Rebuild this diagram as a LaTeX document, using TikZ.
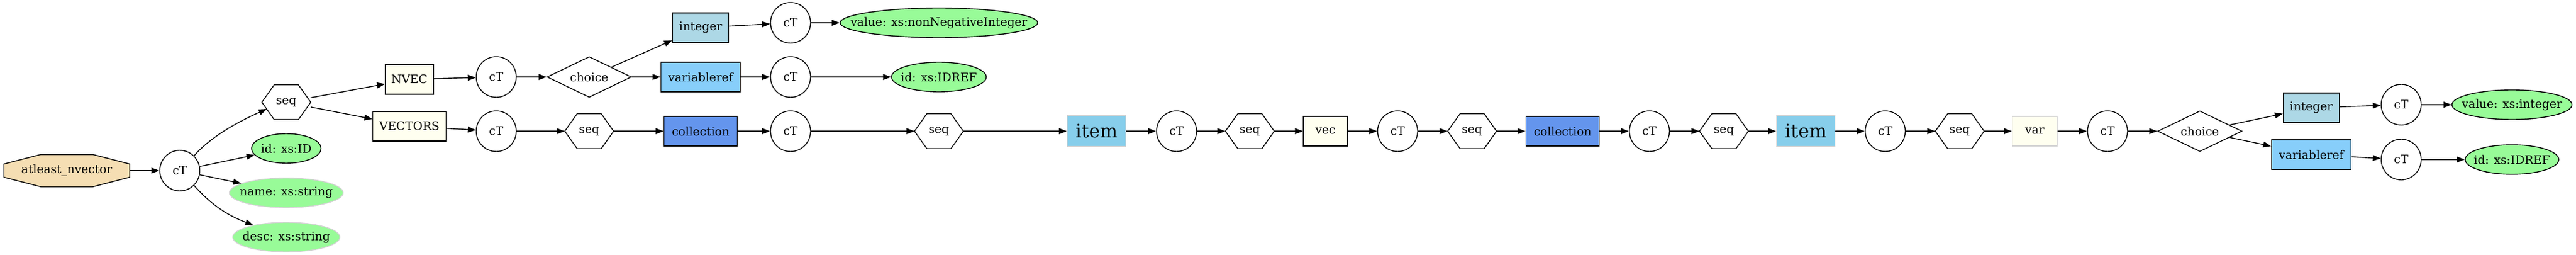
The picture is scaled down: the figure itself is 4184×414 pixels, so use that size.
\documentclass[tikz,border=0pt]{standalone}
\usepackage{fontspec}
\setmainfont{DejaVu Serif}
\usetikzlibrary{shapes.geometric,arrows.meta,backgrounds}
\definecolor{wheat}{HTML}{F5DEB3}
\definecolor{palegreen}{HTML}{98FB98}
\definecolor{ivoryc}{HTML}{FFFFF0}
\definecolor{lightbluec}{HTML}{ADD8E6}
\definecolor{lightskyblue}{HTML}{87CEFA}
\definecolor{cornflower}{HTML}{6495ED}
\definecolor{skybluec}{HTML}{87CEEB}
\definecolor{lgray}{HTML}{D3D3D3}
\begin{document}
\begin{tikzpicture}[x=1pt,y=-1pt,
  base/.style={line width=1.4pt, inner sep=0pt, font=\fontsize{19pt}{22pt}\selectfont, text=black},
  ctnode/.style={base, draw, ellipse, minimum width=65pt, minimum height=66pt},
  attr/.style={base, draw, ellipse, fill=palegreen, minimum height=48pt},
  attrg/.style={attr, draw=lgray},
  seqnode/.style={base, rectangle, minimum width=78pt, minimum height=55pt},
  choicenode/.style={base, draw, diamond, aspect=2.1, minimum width=137pt, minimum height=66pt},
  boxnode/.style={base, draw, rectangle, minimum height=48pt},
  octnode/.style={base, rectangle, minimum width=203pt, minimum height=51pt},
  itemnode/.style={base, draw=lgray, fill=skybluec, rectangle, minimum width=95pt, minimum height=50pt, font=\fontsize{30pt}{34pt}\selectfont},
  edge/.style={line width=1.4pt, -{Triangle[length=13pt,width=9.5pt]}},
  outline/.style={line width=1.4pt, line join=miter},
]
\useasboundingbox (0,0) rectangle (4184,414);

\node[octnode] (oct) at (108.5,277) {atleast\_nvector};
\node[ctnode] (cTa) at (292,277) {cT};
\node[seqnode] (seqa) at (465,166) {seq};
\node[attr, minimum width=113pt] (idID) at (465,241) {\makebox[0pt]{id: xs:ID}};
\node[attrg, minimum width=185pt] (name) at (465,313) {\makebox[0pt]{name: xs:string}};
\node[attrg, minimum width=174pt] (desc) at (465,385) {\makebox[0pt]{desc: xs:string}};
\node[boxnode, fill=ivoryc, minimum width=78pt] (NVEC) at (665,129) {NVEC};
\node[boxnode, fill=ivoryc, minimum width=119pt] (VECTORS) at (665,205) {VECTORS};
\node[ctnode] (cTb) at (806,125) {cT};
\node[ctnode] (cTe) at (806,213) {cT};
\node[choicenode] (choicea) at (957,125) {choice};
\node[seqnode] (seqb) at (957,213) {seq};
\node[boxnode, fill=lightbluec, minimum width=91pt] (integera) at (1138,45) {integer};
\node[boxnode, fill=lightskyblue, minimum width=129pt] (varrefa) at (1138,125) {variableref};
\node[boxnode, fill=cornflower, minimum width=119pt] (colla) at (1138,213) {collection};
\node[ctnode] (cTc) at (1284,37) {cT};
\node[ctnode] (cTd) at (1284,125) {cT};
\node[ctnode] (cTf) at (1284,213) {cT};
\node[attr, minimum width=321pt] (valNN) at (1525,37) {\makebox[0pt]{value: xs:nonNegativeInteger}};
\node[attr, minimum width=154pt] (idrefa) at (1525,125) {\makebox[0pt]{id: xs:IDREF}};
\node[seqnode] (seqc) at (1525,213) {seq};
\node[itemnode] (itema) at (1781,213) {item};
\node[ctnode] (cTg) at (1911,213) {cT};
\node[seqnode] (seqd) at (2030,213) {seq};
\node[boxnode, fill=ivoryc, minimum width=72pt] (vec) at (2153,213) {vec};
\node[ctnode] (cTh) at (2270,213) {cT};
\node[seqnode] (seqe) at (2391,213) {seq};
\node[boxnode, fill=cornflower, minimum width=119pt] (collb) at (2538,213) {collection};
\node[ctnode] (cTi) at (2679,213) {cT};
\node[seqnode] (seqf) at (2800,213) {seq};
\node[itemnode] (itemb) at (2933,213) {item};
\node[ctnode] (cTj) at (3062,213) {cT};
\node[seqnode] (seqg) at (3183,213) {seq};
\node[boxnode, draw=lgray, fill=ivoryc, minimum width=73pt] (var) at (3305,213) {var};
\node[ctnode] (cTk) at (3423,213) {cT};
\node[choicenode] (choiceb) at (3573,213) {choice};
\node[boxnode, fill=lightbluec, minimum width=91pt] (integerb) at (3754,175) {integer};
\node[boxnode, fill=lightskyblue, minimum width=129pt] (varrefb) at (3754,251) {variableref};
\node[ctnode] (cTl) at (3900,170) {cT};
\node[ctnode] (cTm) at (3900,259) {cT};
\node[attr, minimum width=195pt] (valint) at (4080,170) {\makebox[0pt]{value: xs:integer}};
\node[attr, minimum width=152pt] (idrefb) at (4080,259) {\makebox[0pt]{id: xs:IDREF}};

\begin{scope}[on background layer]
  \filldraw[outline, fill=wheat]
    ([yshift=-15.5pt]oct.north west) -- ([xshift=60pt]oct.north west)
    -- ([xshift=-60pt]oct.north east) -- ([yshift=-15.5pt]oct.north east)
    -- ([yshift=15.5pt]oct.south east) -- ([xshift=-60pt]oct.south east)
    -- ([xshift=60pt]oct.south west) -- ([yshift=15.5pt]oct.south west) -- cycle;
  \foreach \n in {seqa,seqb,seqc,seqd,seqe,seqf,seqg}{
    \filldraw[outline, fill=white]
      (\n.west) -- ([xshift=20pt]\n.north west) -- ([xshift=-20pt]\n.north east)
      -- (\n.east) -- ([xshift=-20pt]\n.south east) -- ([xshift=20pt]\n.south west) -- cycle;
  }
\end{scope}

\draw[edge] (oct) -- (cTa);
\draw[edge] (cTa.46) .. controls +(28,-32) and +(-45,20) .. ([xshift=8pt,yshift=-11pt]seqa.west);
\draw[edge] (cTa) -- (idID);
\draw[edge] (cTa) -- (name);
\draw[edge] (cTa.-46) .. controls +(28,32) and +(-40,-15) .. (desc.160);
\draw[edge] (seqa) -- (NVEC);
\draw[edge] (seqa) -- (VECTORS);
\draw[edge] (NVEC) -- (cTb);
\draw[edge] (VECTORS) -- (cTe);
\draw[edge] (cTb) -- (choicea);
\draw[edge] (choicea) -- (integera);
\draw[edge] (choicea) -- (varrefa);
\draw[edge] (integera) -- (cTc);
\draw[edge] (varrefa) -- (cTd);
\draw[edge] (cTc) -- (valNN);
\draw[edge] (cTd) -- (idrefa);
\draw[edge] (cTe) -- (seqb);
\draw[edge] (seqb) -- (colla);
\draw[edge] (colla) -- (cTf);
\draw[edge] (cTf) -- (seqc);
\draw[edge] (seqc) -- (itema);
\draw[edge] (itema) -- (cTg);
\draw[edge] (cTg) -- (seqd);
\draw[edge] (seqd) -- (vec);
\draw[edge] (vec) -- (cTh);
\draw[edge] (cTh) -- (seqe);
\draw[edge] (seqe) -- (collb);
\draw[edge] (collb) -- (cTi);
\draw[edge] (cTi) -- (seqf);
\draw[edge] (seqf) -- (itemb);
\draw[edge] (itemb) -- (cTj);
\draw[edge] (cTj) -- (seqg);
\draw[edge] (seqg) -- (var);
\draw[edge] (var) -- (cTk);
\draw[edge] (cTk) -- (choiceb);
\draw[edge] (choiceb) -- (integerb);
\draw[edge] (choiceb) -- (varrefb);
\draw[edge] (integerb) -- (cTl);
\draw[edge] (varrefb) -- (cTm);
\draw[edge] (cTl) -- (valint);
\draw[edge] (cTm) -- (idrefb);
\end{tikzpicture}
\end{document}
